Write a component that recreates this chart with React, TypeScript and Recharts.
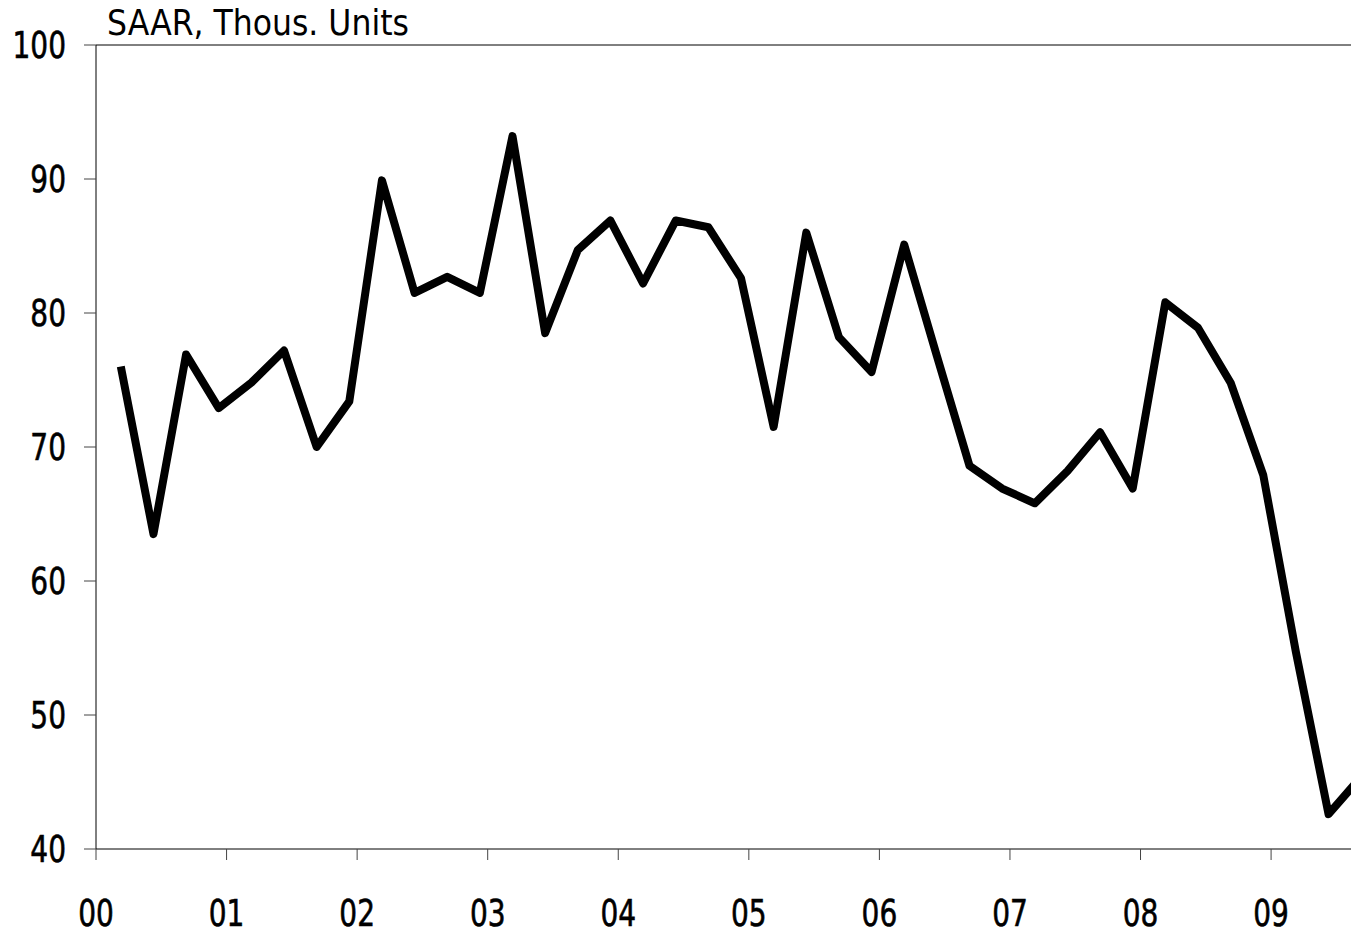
import { LineChart, Line, XAxis, YAxis, ReferenceLine } from "recharts";

// quarterly starts (SAAR, thous. units), 2000Q1 .. 2009Q3
const startYear = 2000;
const values = [
  76.0, 63.5, 76.9, 72.9,
  74.8, 77.2, 70.0, 73.4,
  89.9, 81.5, 82.7, 81.5,
  93.2, 78.5, 84.7, 86.9,
  82.2, 86.9, 86.4, 82.6,
  71.5, 86.0, 78.2, 75.6,
  85.1, 76.8, 68.6, 66.9,
  65.8, 68.2, 71.1, 66.9,
  80.8, 78.9, 74.8, 67.9,
  54.7, 42.6, 45.4,
];
const yearTicks = [2000, 2001, 2002, 2003, 2004, 2005, 2006, 2007, 2008, 2009];
const yTicks = [40, 50, 60, 70, 80, 90, 100];

// quarter i sits a little after the start of its year on the time axis
const data = values.map((v, i) => ({ t: startYear + 0.19 + i * 0.25, v }));

const tickFont = "'DejaVu Sans Condensed', 'DejaVu Sans', sans-serif";
const titleFont = "'DejaVu Sans Condensed', 'DejaVu Sans', sans-serif";

// narrow digits like the original's condensed face
const XTick = ({ x, y, payload }: any) => (
  <g transform={`translate(${x},${y})`}>
    <text
      transform="scale(0.82,1)"
      textAnchor="middle"
      dy="0.71em"
      fill="#000"
      stroke="#000"
      strokeWidth={0.6}
      fontSize={38}
      fontFamily={tickFont}
    >
      {String(payload.value % 100).padStart(2, "0")}
    </text>
  </g>
);

const YTick = ({ x, y, payload }: any) => (
  <g transform={`translate(${x},${y})`}>
    <text
      transform="scale(0.82,1)"
      textAnchor="end"
      dy="0.355em"
      fill="#000"
      stroke="#000"
      strokeWidth={0.6}
      fontSize={38}
      fontFamily={tickFont}
    >
      {payload.value}
    </text>
  </g>
);

export default function App() {
  return (
    <div style={{ position: "absolute", left: 0, top: 0, background: "#fff" }}>
      <LineChart
        width={1351}
        height={932}
        data={data}
        margin={{ top: 45, right: 0, bottom: 0, left: 0 }}
      >
        <XAxis
          dataKey="t"
          type="number"
          domain={[2000, 2009.612]}
          allowDataOverflow
          ticks={yearTicks}
          height={83}
          tickSize={11}
          tickMargin={39}
          stroke="#000"
          tick={<XTick />}
          tickLine={{ stroke: "#444" }}
        />
        <YAxis
          type="number"
          domain={[40, 100]}
          ticks={yTicks}
          width={96}
          tickSize={12}
          tickMargin={18}
          stroke="#000"
          tick={<YTick />}
          tickLine={{ stroke: "#444" }}
        />
        <ReferenceLine y={100} stroke="#000" strokeWidth={1} />
        <Line
          type="linear"
          dataKey="v"
          stroke="#000"
          strokeWidth={8}
          strokeLinejoin="round"
          dot={false}
          isAnimationActive={false}
        />
        <text
          x={107}
          y={35}
          fill="#000"
          fontSize={35}
          fontFamily={titleFont}
        >
          SAAR, Thous. Units
        </text>
      </LineChart>
    </div>
  );
}
